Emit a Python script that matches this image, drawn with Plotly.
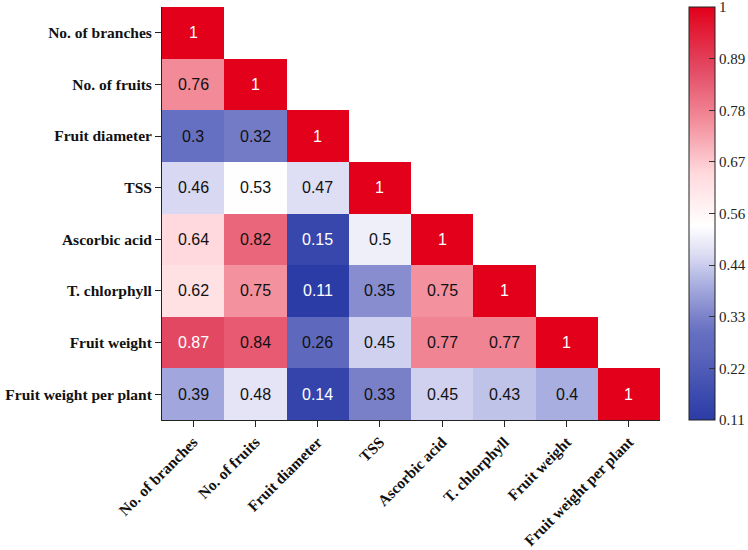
import plotly.graph_objects as go
import numpy as np

labels = ["No. of branches", "No. of fruits", "Fruit diameter", "TSS",
          "Ascorbic acid", "T. chlorphyll", "Fruit weight", "Fruit weight per plant"]

row_values = [
    [1],
    [0.76, 1],
    [0.3, 0.32, 1],
    [0.46, 0.53, 0.47, 1],
    [0.64, 0.82, 0.15, 0.5, 1],
    [0.62, 0.75, 0.11, 0.35, 0.75, 1],
    [0.87, 0.84, 0.26, 0.45, 0.77, 0.77, 1],
    [0.39, 0.48, 0.14, 0.33, 0.45, 0.43, 0.4, 1],
]

cbar_ticktext = ["0.11", "0.22", "0.33", "0.44", "0.56", "0.67", "0.78", "0.89", "1"]

n = len(labels)
z = [[(row[j] if j < len(row) else None) for j in range(n)] for row in row_values]

colorscale = [
    [0.000, "#2c3ca6"],
    [0.050, "#3848ad"],
    [0.170, "#5e68bc"],
    [0.213, "#6670c2"],
    [0.247, "#7a80c8"],
    [0.330, "#aab0e0"],
    [0.393, "#d8d8f2"],
    [0.470, "#ffffff"],
    [0.600, "#ffd8dc"],
    [0.730, "#f28a98"],
    [0.850, "#e34a64"],
    [1.000, "#e2001a"],
]

zmin, zmax = 0.11, 1.0
tickvals = [round(v, 6) for v in np.linspace(zmin, zmax, len(cbar_ticktext))]
tickvals[-1] = zmax - 1e-6

L, R, T, B = 162, 88, 7, 130
W, H = 748, 550
pw = W - L - R
cb_left_px = 689
cb_x = (cb_left_px - L) / pw

serif = "Liberation Serif, Times New Roman, serif"

fig = go.Figure(go.Heatmap(
    z=z, x=labels, y=labels,
    zmin=zmin, zmax=zmax, colorscale=colorscale,
    hoverongaps=False,
    colorbar=dict(
        x=cb_x, xanchor="left", xpad=0,
        y=0.5, yanchor="middle", ypad=0, len=1, lenmode="fraction",
        thickness=26, outlinewidth=1, outlinecolor="#222",
        tickvals=tickvals, ticktext=cbar_ticktext,
        ticks="inside", ticklen=6, tickcolor="#333", tickwidth=1,
        ticklabeloverflow="allow",
        tickfont=dict(family=serif, size=15, color="#222"),
    ),
))

annotations = []
for i, row in enumerate(row_values):
    for j, v in enumerate(row):
        annotations.append(dict(
            x=labels[j], y=labels[i], xref="x", yref="y",
            text=f"{v:g}", showarrow=False,
            font=dict(family="Liberation Sans, Arial, sans-serif", size=16,
                      color="white" if (v <= 0.15 or v >= 0.87) else "#111"),
        ))

# left-side tick dashes on colorbar
shapes = []
for tv in tickvals[1:-1]:
    yp = (tv - zmin) / (zmax - zmin)
    shapes.append(dict(type="line", xref="paper", yref="paper",
                       x0=cb_x, x1=cb_x + 6 / pw, y0=yp, y1=yp,
                       line=dict(color="#333", width=1)))

fig.update_layout(
    width=W, height=H,
    margin=dict(l=L, r=R, t=T, b=B, autoexpand=False),
    plot_bgcolor="white", paper_bgcolor="white",
    annotations=annotations,
    shapes=shapes,
)
axis_font = dict(family=serif, size=15.5, color="#111", weight="bold")
fig.update_xaxes(showgrid=False, zeroline=False, showline=True, linecolor="#222", linewidth=1,
                 ticks="outside", ticklen=6, tickcolor="#222", tickangle=-45, tickfont=axis_font)
fig.update_yaxes(showgrid=False, zeroline=False, showline=True, linecolor="#222", linewidth=1,
                 ticks="outside", ticklen=6, tickcolor="#222", autorange="reversed", tickfont=axis_font)

fig.write_html("out.html")
